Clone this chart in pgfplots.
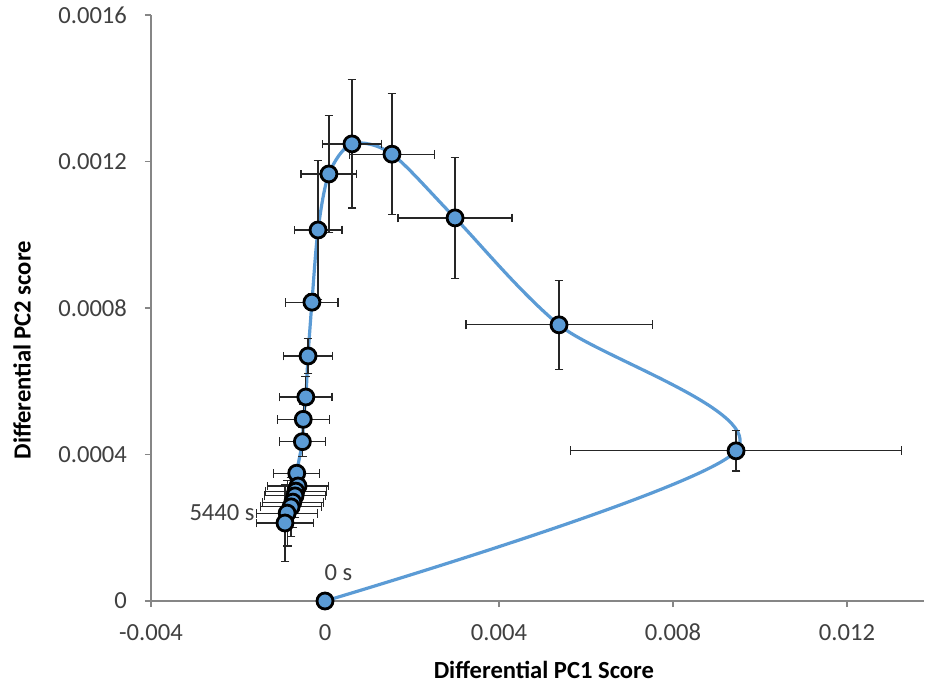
\documentclass[border=0pt]{standalone}
\usepackage{fontspec}
\setmainfont{Carlito}
\usepackage{pgfplots}
\usepackage{pgfplotstable}
\pgfplotsset{compat=1.18}
\definecolor{blu}{HTML}{5B9BD5}
\definecolor{axgray}{HTML}{868686}
\definecolor{txt}{HTML}{404040}

\pgfplotstableread{
x y ex ey
0 0 0 0
0.00945 0.000410 0.0038 0.000055
0.00538 0.000754 0.00214 0.000122
0.00299 0.001046 0.00131 0.000165
0.00154 0.00122 0.00098 0.000165
0.00062 0.001248 0.00068 0.000175
0.00009 0.001166 0.00064 0.00016
-0.00016 0.001013 0.00055 0.00019
-0.00030 0.000816 0.00060 0.000022
-0.00039 0.000669 0.00057 0.000047
-0.00044 0.000557 0.00060 0.000055
-0.00050 0.000496 0.00060 0.00004
-0.00052 0.000435 0.00053 0.00004
-0.00065 0.000349 0.00053 0.00002
-0.00062 0.000314 0.00070 0.00004
-0.00067 0.000300 0.00070 0.00005
-0.00069 0.000287 0.00070 0.00006
-0.00074 0.000270 0.00070 0.00007
-0.00078 0.000257 0.00070 0.00008
-0.00087 0.000240 0.00070 0.00009
-0.00092 0.000213 0.00065 0.000106
}\data

\begin{document}
\begin{tikzpicture}
\begin{axis}[
  scale only axis, width=386.7pt, height=293pt,
  xmin=-0.004, xmax=0.01378, ymin=0, ymax=0.0016,
  axis x line=bottom, axis y line=left,
  axis line style={-, axgray, line width=0.75pt},
  scaled ticks=false,
  xtick={-0.004,0,0.004,0.008,0.012}, xticklabels={-0.004,0,0.004,0.008,0.012},
  ytick={0,0.0004,0.0008,0.0012,0.0016}, yticklabels={0,0.0004,0.0008,0.0012,0.0016},
  tick align=outside, major tick length=3pt,
  tick style={axgray, line width=0.75pt},
  ticklabel style={font=\fontsize{12.3}{14}\selectfont, text=txt},
  yticklabel style={xshift=-5.5pt},
  xticklabel style={yshift=-5pt},
  clip=false,
  xlabel={Differential PC1 Score}, ylabel={Differential PC2 score},
  label style={font=\fontsize{12.3}{14}\selectfont\bfseries},
  xlabel style={at={(rel axis cs:0.508,-0.1177)}, anchor=center},
  ylabel style={at={(rel axis cs:-0.1667,0.428)}, anchor=center},
]
\addplot[blu, line width=1.6pt, smooth, tension=0.5] table[x=x,y=y]{\data};
\addplot[only marks, mark=*, mark size=4pt,
  mark options={fill=blu, draw=black, line width=1.4pt},
  error bars/.cd, x dir=both, x explicit, y dir=both, y explicit,
  error bar style={black!85, line width=0.6pt},
  error mark options={rotate=90, black!85, line width=0.6pt, mark size=2.2pt}]
  table[x=x, y=y, x error=ex, y error=ey]{\data};
\node[anchor=east, text=txt, font=\fontsize{12.3}{14}\selectfont, inner sep=0pt] at (axis cs:-0.00161,0.00024) {5440 s};
\node[anchor=west, text=txt, font=\fontsize{12.3}{14}\selectfont, inner sep=0pt] at (axis cs:-0.00002,0.0000765) {0 s};
\end{axis}
\pgfresetboundingbox
\path ([shift={(-75.5pt,-42.5pt)}]current axis.south west) rectangle ++(462.5pt,343pt);
\end{tikzpicture}
\end{document}
